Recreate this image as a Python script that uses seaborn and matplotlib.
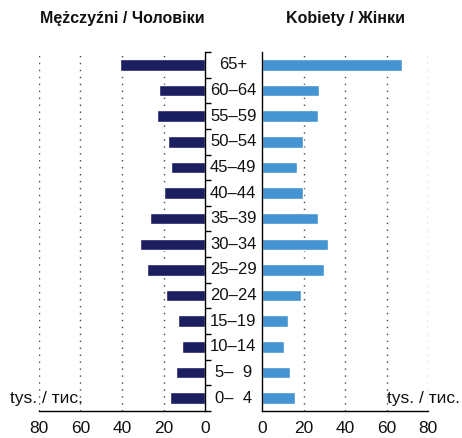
import numpy as np
import pandas as pd
import matplotlib
matplotlib.use('Agg')
import matplotlib.pyplot as plt
import matplotlib.transforms as mtransforms
import seaborn as sns

# ── Dane ──────────────────────────────────────────────────────────────────────

age_groups = ['65+', '60–64', '55–59', '50–54', '45–49', '40–44', '35–39',
              '30–34', '25–29', '20–24', '15–19', '10–14', '5–  9', '0–  4']
men   = [41.0, 22.2, 23.1, 17.8, 16.4, 19.8, 26.5, 31.3, 28.0, 18.8, 13.0, 11.1, 14.0, 16.9]
women = [67.6, 27.4, 26.9, 19.7, 16.8, 19.7, 26.9, 31.8, 29.9, 18.7, 12.4, 10.5, 13.4, 15.8]
x_ticks = [0, 20, 40, 60, 80]

title_men   = 'Mężczyźni / Чоловіки'
title_women = 'Kobiety / Жінки'
unit_label  = 'tys. / тис.'

df = pd.DataFrame({'age': age_groups, 'men': men, 'women': women})

# ── Styl ──────────────────────────────────────────────────────────────────────

sns.set_style('white')
plt.rcParams['font.family'] = ['Liberation Sans Narrow', 'Liberation Sans', 'DejaVu Sans']
plt.rcParams['text.color'] = '#111111'
plt.rcParams['xtick.color'] = 'black'
plt.rcParams['xtick.labelcolor'] = '#111111'

C_MEN   = '#1b1f5f'
C_WOMEN = '#4394d1'
FS = 12.5

fig = plt.figure(figsize=(4.62, 4.38), dpi=100)
ax_m = fig.add_axes([0.084, 0.062, 0.360, 0.819])
ax_w = fig.add_axes([0.567, 0.062, 0.360, 0.819])

sns.barplot(data=df, x='men', y='age', order=age_groups, color=C_MEN,
            width=0.45, saturation=1, ax=ax_m)
sns.barplot(data=df, x='women', y='age', order=age_groups, color=C_WOMEN,
            width=0.45, saturation=1, ax=ax_w)

n = len(age_groups)
bounds = np.arange(-0.5, n, 1.0)

for ax in (ax_m, ax_w):
    ax.set_ylim(n - 0.5, -0.5)
    ax.set_xlim(0, 80)
    ax.set_xticks(x_ticks)
    ax.set_xticklabels([str(t) for t in x_ticks], fontsize=FS)
    ax.set_yticks(bounds)
    ax.set_yticklabels([])
    ax.set_xlabel('')
    ax.set_ylabel('')
    ax.set_axisbelow(True)
    for g in x_ticks[1:]:
        ax.axvline(g, color='#444444', lw=1.0, ls=(0, (1, 4)), zorder=0)
    ax.tick_params(axis='both', length=4, width=1, color='black', pad=3)
    ax.spines['top'].set_visible(False)
    for s in ax.spines.values():
        s.set_color('black')
        s.set_linewidth(1.0)

# lewa strona odwrócona
ax_m.set_xlim(80, 0)
ax_m.spines['left'].set_visible(False)
ax_m.yaxis.tick_right()
ax_w.spines['right'].set_visible(False)

# etykiety grup wieku pośrodku
tr = mtransforms.blended_transform_factory(fig.transFigure, ax_m.transData)
for i, lab in enumerate(age_groups):
    fig.text(0.505, i, lab, transform=tr, ha='center', va='center', fontsize=12)

fig.text(0.264, 0.958, title_men, ha='center', va='center', fontsize=11.5, fontweight='bold')
fig.text(0.747, 0.958, title_women, ha='center', va='center', fontsize=11.5, fontweight='bold')

ax_m.text(0.022, n - 1, unit_label, transform=tr,
          ha='left', va='center', fontsize=FS)
ax_w.text(0.996, n - 1, unit_label,
          transform=mtransforms.blended_transform_factory(fig.transFigure, ax_w.transData),
          ha='right', va='center', fontsize=FS)

plt.savefig('out.png', dpi=100)
